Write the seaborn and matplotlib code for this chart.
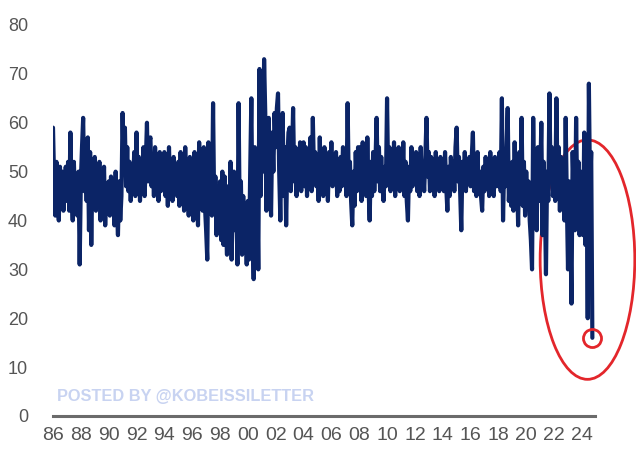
import numpy as np
import pandas as pd
import matplotlib
matplotlib.use("Agg")
import matplotlib.pyplot as plt
from matplotlib.patches import Ellipse
import seaborn as sns

# monthly readings from Jan 1986 (estimated off the chart)
vals_1986_1989 = [
    59, 48, 41, 52, 45, 40, 51, 43, 50, 42, 47, 51,  # 86
    44, 52, 42, 58, 46, 40, 52, 44, 49, 41, 50, 31,  # 87
    48, 55, 61, 46, 53, 44, 57, 38, 54, 35, 50, 44,  # 88
    53, 42, 50, 45, 52, 40, 48, 43, 51, 39, 47, 44,  # 89
]
vals_1990s = [
    48, 41, 49, 44, 46, 39, 50, 43, 37, 48, 40, 45,  # 90
    62, 50, 59, 47, 55, 46, 52, 44, 51, 46, 54, 45,  # 91
    58, 47, 53, 44, 50, 46, 55, 45, 52, 60, 48, 56,  # 92
    57, 47, 53, 45, 55, 48, 51, 44, 54, 46, 52, 47,  # 93
    54, 45, 52, 43, 55, 47, 50, 44, 53, 46, 51, 45,  # 94
    52, 43, 54, 46, 50, 42, 55, 45, 49, 41, 53, 46,  # 95
    50, 40, 54, 44, 51, 39, 56, 45, 52, 42, 55, 43,  # 96
    38, 32, 56, 44, 50, 41, 64, 42, 49, 37, 47, 39,  # 97
    48, 36, 50, 35, 49, 40, 33, 47, 37, 52, 32, 44,  # 98
    50, 38, 46, 31, 64, 40, 48, 33, 45, 36, 42, 31,  # 99
]
vals_2000s = [
    44, 32, 50, 65, 40, 28, 55, 35, 48, 30, 71, 45,  # 00
    60, 50, 73, 62, 42, 55, 61, 48, 41, 58, 50, 62,  # 01
    55, 63, 66, 50, 40, 57, 62, 45, 55, 39, 52, 58,  # 02
    59, 46, 52, 63, 48, 55, 45, 54, 47, 56, 46, 53,  # 03
    56, 47, 55, 45, 53, 48, 57, 46, 61, 50, 54, 47,  # 04
    52, 44, 57, 47, 53, 45, 55, 48, 51, 44, 54, 49,  # 05
    56, 47, 52, 48, 54, 45, 50, 46, 53, 47, 55, 49,  # 06
    51, 45, 64, 47, 52, 44, 39, 50, 43, 54, 46, 55,  # 07
    48, 55, 44, 56, 46, 53, 45, 57, 47, 40, 52, 45,  # 08
    54, 46, 52, 61, 48, 55, 46, 53, 47, 44, 51, 47,  # 09
]
vals_2010s = [
    65, 48, 55, 46, 54, 47, 56, 45, 53, 48, 55, 46,  # 10
    54, 47, 56, 45, 52, 44, 40, 51, 46, 55, 47, 53,  # 11
    48, 54, 46, 52, 45, 55, 47, 51, 46, 53, 61, 49,  # 12
    54, 46, 53, 48, 52, 45, 54, 47, 51, 46, 53, 48,  # 13
    52, 46, 54, 47, 42, 51, 45, 53, 47, 52, 46, 55,  # 14
    59, 48, 53, 46, 38, 52, 47, 54, 46, 51, 48, 53,  # 15
    47, 53, 58, 46, 52, 45, 54, 47, 50, 45, 42, 51,  # 16
    46, 53, 47, 52, 45, 54, 48, 51, 45, 53, 47, 52,  # 17
    47, 54, 46, 65, 40, 52, 47, 55, 63, 44, 50, 43,  # 18
    52, 42, 56, 44, 50, 39, 54, 45, 61, 43, 52, 41,  # 19
]
vals_2020s = [
    50, 43, 48, 40, 36, 30, 61, 42, 50, 38, 55, 44,  # 20
    48, 60, 37, 52, 45, 29, 50, 44, 66, 48, 55, 45,  # 21
    52, 44, 65, 47, 55, 42, 53, 45, 49, 40, 61, 44,  # 22
    30, 48, 40, 23, 54, 45, 38, 61, 44, 52, 37, 50,  # 23
    45, 37, 58, 35, 50, 20, 68, 46, 54, 16,          # 24
]

year_ticks = list(range(1986, 2025, 2))
year_labels = [f"{y % 100:02d}" for y in year_ticks]
y_ticks = list(range(0, 81, 10))
watermark = "POSTED BY @KOBEISSILETTER"

values = vals_1986_1989 + vals_1990s + vals_2000s + vals_2010s + vals_2020s
df = pd.DataFrame({"date": 1986 + np.arange(len(values)) / 12, "value": values})

sns.set_style("white")
plt.rcParams["font.family"] = ["Liberation Sans", "DejaVu Sans"]

fig = plt.figure(figsize=(6.36, 4.5), dpi=100)
ax = fig.add_axes([53 / 636, 34 / 450, 542 / 636, 391 / 450])

sns.lineplot(data=df, x="date", y="value", color="#0b2466", linewidth=3.0, ax=ax)

# highlight the latest reading
last = df.iloc[-1]
ax.plot(last["date"], last["value"], "o", ms=13, mfc="none", mec="#e3262b", mew=2, clip_on=False)
ax.add_patch(Ellipse((last["date"] - 0.35, 32), 6.8, 49, fill=False, ec="#e3262b", lw=2, clip_on=False))

ax.set_xlim(1986, 2024.94)
ax.set_ylim(0, 80)
ax.set_xticks(year_ticks)
ax.set_xticklabels(year_labels, fontsize=14)
ax.set_yticks(y_ticks)
ax.tick_params(axis="y", length=0, pad=18, labelsize=13, labelcolor="#555555")
ax.tick_params(axis="x", length=0, pad=8, labelcolor="#555555")
ax.set_xlabel("")
ax.set_ylabel("")

for s in ["top", "left", "right"]:
    ax.spines[s].set_visible(False)
ax.spines["bottom"].set_color("#6b6b6b")
ax.spines["bottom"].set_linewidth(2.2)

fig.text(57 / 636, 1 - 397 / 450, watermark, color="#c8d3f1", fontweight="bold",
         fontsize=11.8, va="center", ha="left")

fig.savefig("out.png", dpi=100)
